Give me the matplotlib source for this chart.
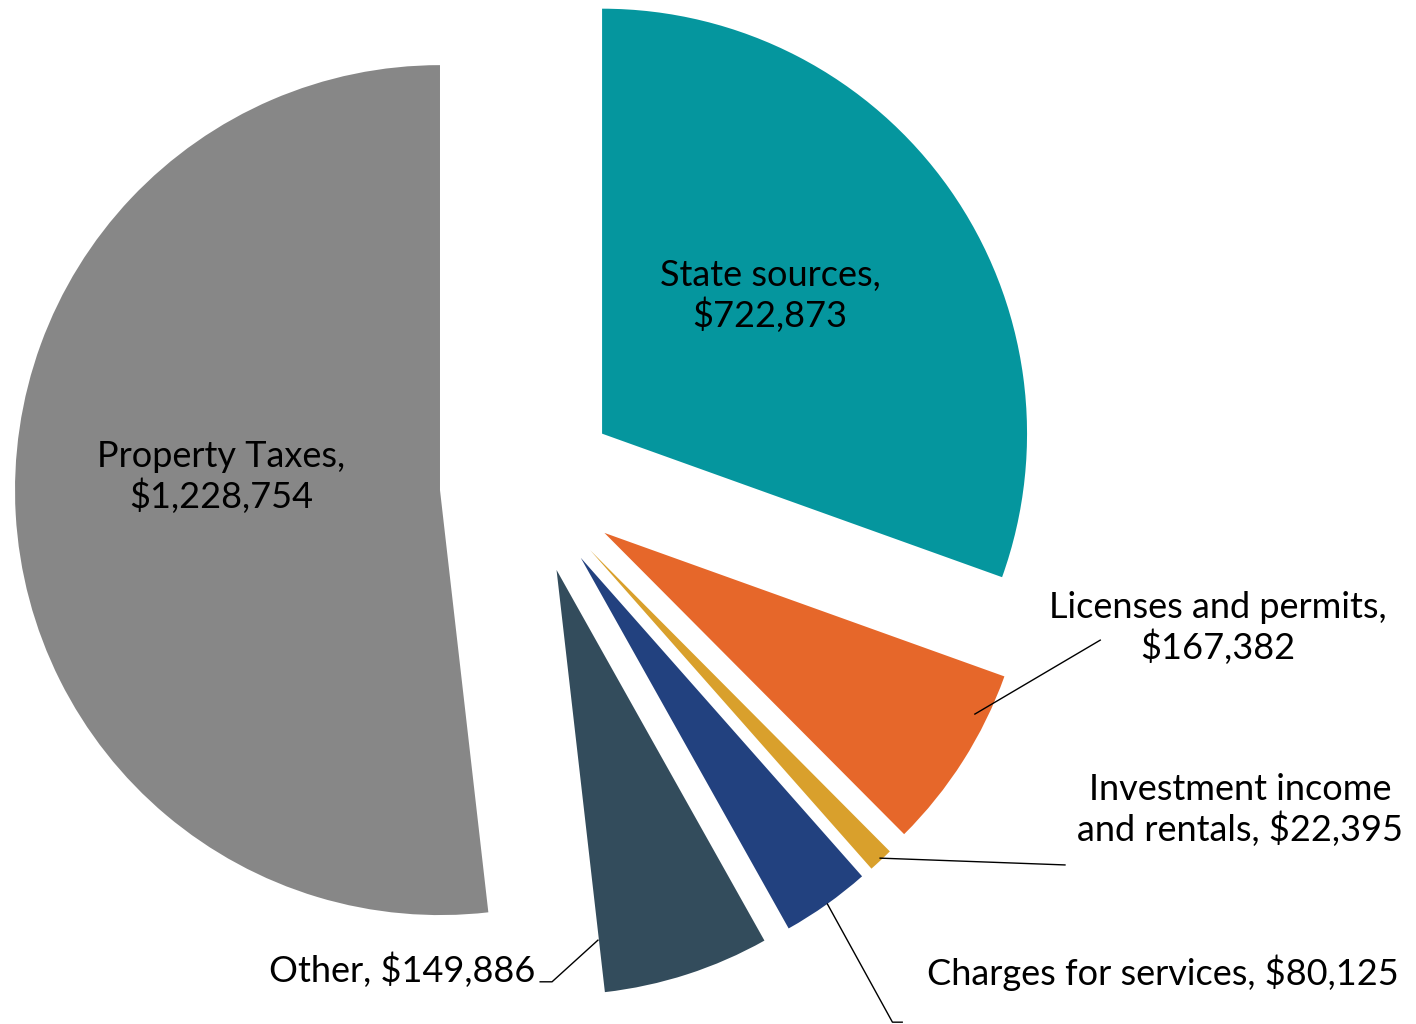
import matplotlib.pyplot as plt

plt.rcParams['font.family'] = ['Lato', 'DejaVu Sans']

labels = ['State sources', 'Licenses and permits', 'Investment income and rentals',
          'Charges for services', 'Other', 'Property Taxes']
values = [722873, 167382, 22395, 80125, 149886, 1228754]
colors = ['#05969E', '#E6672A', '#D9A02C', '#22417F', '#334C5C', '#878787']

# label text, centre position, leader line points (data units, radius = 1)
label_text = [
    'State sources,\n$722,873',
    'Licenses and permits,\n$167,382',
    'Investment income\nand rentals, $22,395',
    'Charges for services, $80,125',
    'Other, $149,886',
    'Property Taxes,\n$1,228,754',
]
label_pos = [(0.567, 0.445), (1.621, -0.336), (1.673, -0.765),
             (1.492, -1.148), (-0.299, -1.141), (-0.725, 0.019)]
leaders = [
    None,
    [(1.049, -0.539), (1.344, -0.365)],
    [(0.826, -0.878), (1.261, -0.894)],
    [(0.702, -0.986), (0.855, -1.264), (0.878, -1.264)],
    [(0.162, -1.071), (0.054, -1.169), (0.026, -1.169)],
    None,
]

fig = plt.figure(figsize=(14.16, 10.24), dpi=100)
ax = fig.add_axes([0, 0, 1, 1])

ax.pie(values, colors=colors, startangle=90, counterclock=False,
       explode=[0.21] * len(values), radius=1)

for txt, (x, y), ln in zip(label_text, label_pos, leaders):
    ax.text(x, y, txt, ha='center', va='center', fontsize=26,
            color='black', linespacing=1.2)
    if ln:
        xs, ys = zip(*ln)
        ax.plot(xs, ys, color='black', lw=1)

ax.set_aspect('equal')
ax.set_xlim(-1.245, 2.087)
ax.set_ylim(-1.268, 1.141)
ax.axis('off')

fig.savefig('out.png', dpi=100)
